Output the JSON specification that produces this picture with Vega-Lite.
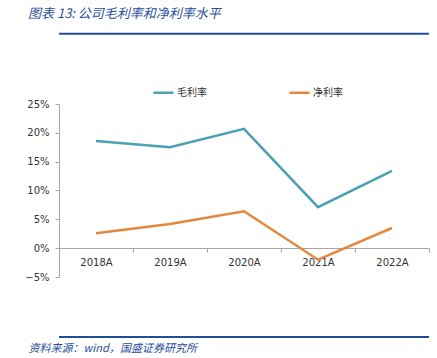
{
  "$schema": "https://vega.github.io/schema/vega-lite/v6.json",
  "autosize": {"type": "none"},
  "width": 370,
  "height": 173,
  "padding": {"left": 59, "top": 104, "right": 8, "bottom": 81},
  "background": "white",
  "title": {
    "text": "图表 13:  公司毛利率和净利率水平",
    "anchor": "start",
    "frame": "group",
    "dx": -31,
    "offset": 12,
    "font": "Noto Sans CJK SC",
    "fontSize": 13,
    "fontWeight": "normal",
    "fontStyle": "italic",
    "color": "#1f4e9a"
  },
  "config": {
    "view": {"stroke": null},
    "font": "DejaVu Sans",
    "axisY": {"labelOverlap": false}
  },
  "data": {
    "values": [
      {"year": "2018A", "series": "毛利率", "value": 0.186},
      {"year": "2019A", "series": "毛利率", "value": 0.175},
      {"year": "2020A", "series": "毛利率", "value": 0.207},
      {"year": "2021A", "series": "毛利率", "value": 0.071},
      {"year": "2022A", "series": "毛利率", "value": 0.134},
      {"year": "2018A", "series": "净利率", "value": 0.026},
      {"year": "2019A", "series": "净利率", "value": 0.042},
      {"year": "2020A", "series": "净利率", "value": 0.064},
      {"year": "2021A", "series": "净利率", "value": -0.020},
      {"year": "2022A", "series": "净利率", "value": 0.035}
    ]
  },
  "layer": [
    {
      "mark": {"type": "line", "strokeWidth": 2.5, "clip": false},
      "encoding": {
        "x": {
          "field": "year",
          "type": "ordinal",
          "scale": {"type": "band", "paddingInner": 0, "paddingOuter": 0},
          "axis": {
            "title": "资料来源：wind，国盛证券研究所",
            "titleFont": "Noto Sans CJK SC",
            "titleFontSize": 11,
            "titleFontWeight": "normal",
            "titleFontStyle": "italic",
            "titleColor": "#1f4e9a",
            "titleAnchor": "start",
            "titleAlign": "left",
            "titleBaseline": "alphabetic",
            "titleX": -31,
            "titleY": 103,
            "offset": -29,
            "labelAngle": 0,
            "labelFont": "DejaVu Sans",
            "labelFontSize": 10,
            "labelColor": "#333333",
            "labelPadding": 5,
            "tickBand": "extent",
            "tickSize": 4,
            "tickColor": "#a6a6a6",
            "domainColor": "#a6a6a6"
          }
        },
        "y": {
          "field": "value",
          "type": "quantitative",
          "scale": {"domain": [-0.05, 0.25], "nice": false, "zero": false},
          "axis": {
            "title": null,
            "values": [-0.05, 0, 0.05, 0.1, 0.15, 0.2, 0.25],
            "format": ".0%",
            "grid": false,
            "labelOverlap": false,
            "labelFont": "DejaVu Sans",
            "labelFontSize": 10,
            "labelColor": "#333333",
            "labelPadding": 6,
            "tickSize": 4,
            "tickColor": "#a6a6a6",
            "domainColor": "#a6a6a6"
          }
        },
        "color": {
          "field": "series",
          "type": "nominal",
          "scale": {"domain": ["毛利率", "净利率"], "range": ["#4aa0b5", "#e5873d"]},
          "legend": {
            "title": null,
            "orient": "none",
            "direction": "horizontal",
            "legendX": 93,
            "legendY": -23,
            "symbolType": "stroke",
            "symbolSize": 400,
            "symbolStrokeWidth": 2.5,
            "labelFont": "Noto Sans CJK SC",
            "labelFontSize": 10,
            "labelColor": "#333333",
            "labelOffset": 2,
            "columnPadding": 77
          }
        }
      }
    },
    {
      "data": {"values": [{"value": 0.372}, {"value": -0.154}]},
      "mark": {"type": "rule", "color": "#1f4e9a", "strokeWidth": 2, "clip": false},
      "encoding": {
        "y": {
          "field": "value",
          "type": "quantitative",
          "axis": {
            "title": null,
            "values": [-0.05, 0, 0.05, 0.1, 0.15, 0.2, 0.25],
            "format": ".0%",
            "grid": false,
            "labelOverlap": false,
            "labelFont": "DejaVu Sans",
            "labelFontSize": 10,
            "labelColor": "#333333",
            "labelPadding": 6,
            "tickSize": 4,
            "tickColor": "#a6a6a6",
            "domainColor": "#a6a6a6"
          }
        }
      }
    }
  ]
}
